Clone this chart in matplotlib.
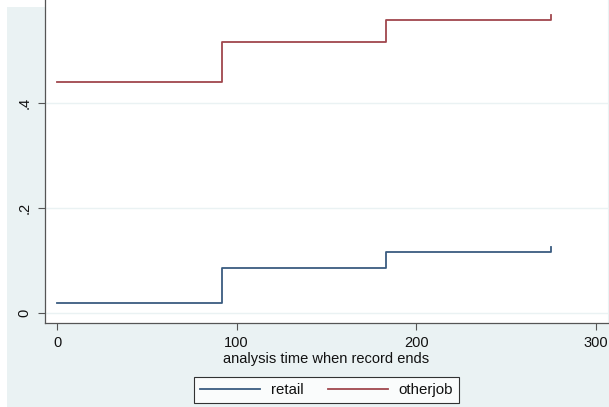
import matplotlib
matplotlib.use("Agg")
import matplotlib.pyplot as plt
from matplotlib.patches import Rectangle

# data
time = [0, 92, 183, 275]
retail = [0.020, 0.085, 0.117, 0.126]
otherjob = [0.440, 0.516, 0.557, 0.568]
x_ticks = [0, 100, 200, 300]
y_ticks = [0, 0.2, 0.4]
y_labels = ["0", ".2", ".4"]

plt.rcParams["font.family"] = ["Liberation Sans", "DejaVu Sans"]

W, H = 609, 407
fig = plt.figure(figsize=(W / 100, H / 100), dpi=100, facecolor="white")

# stata-ish light blue outer region
fig.patches.append(Rectangle((7 / W, 0), 1 - 7 / W, 1 - 7 / H, transform=fig.transFigure,
                             facecolor="#eaf2f3", edgecolor="none", zorder=-10))

ax = fig.add_axes([45 / W, (H - 323) / H, (608 - 45) / W, 323 / H])
ax.set_facecolor("white")

ax.plot(time, retail, drawstyle="steps-post", color="#3a5c80", lw=1.3, label="retail")
ax.plot(time, otherjob, drawstyle="steps-post", color="#a0474d", lw=1.3, label="otherjob")

ax.set_xlim(-6.7, 306.7)
ax.set_ylim(-0.019, 0.596)

ax.set_xticks(x_ticks)
ax.set_yticks(y_ticks)
ax.set_yticklabels(y_labels, rotation=90, va="center")
ax.tick_params(axis="both", length=5, width=0.8, color="#555555", labelsize=10.5,
               labelcolor="#111111", pad=4.5)
ax.grid(axis="y", color="#eaf2f3", lw=1.0)
ax.set_axisbelow(True)

for s in ["left", "bottom"]:
    ax.spines[s].set_color("#555555")
    ax.spines[s].set_linewidth(0.9)
ax.spines["top"].set_visible(False)
ax.spines["right"].set_color("#eaf2f3")

ax.set_xlabel("analysis time when record ends", fontsize=10.5, color="#111111")
ax.xaxis.set_label_coords(0.5, -0.09)

leg = ax.legend(loc="center", bbox_to_anchor=(326.5 / W, 1 - 390 / H), bbox_transform=fig.transFigure,
                ncol=2, fontsize=10.8, frameon=True, fancybox=False, handlelength=4.0,
                columnspacing=1.6, borderpad=0.4, handletextpad=0.7)
leg.get_frame().set_edgecolor("black")
leg.get_frame().set_linewidth(0.8)
for t in leg.get_texts():
    t.set_color("#111111")

plt.savefig("out.png", dpi=100, facecolor=fig.get_facecolor())
